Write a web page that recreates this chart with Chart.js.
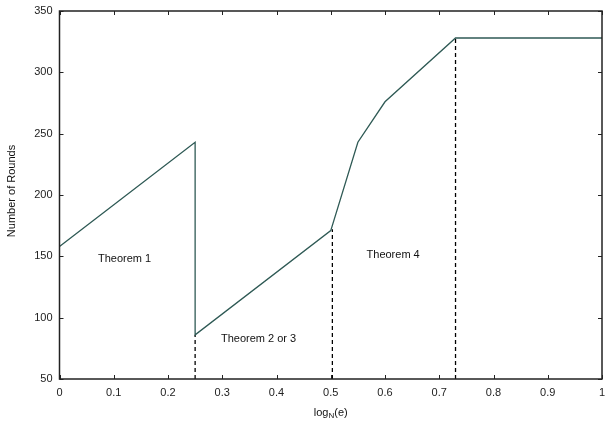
<!DOCTYPE html>
<html>
<head>
<meta charset="utf-8">
<script src="https://cdn.jsdelivr.net/npm/chart.js@4/dist/chart.umd.min.js"></script>
<style>
  html, body { margin: 0; padding: 0; background: #fff; }
  #wrap { width: 605px; height: 424px; }
</style>
</head>
<body>
<div id="wrap"><canvas id="roundsChart"></canvas></div>
<script>
// curve: log_N(e) vs number of rounds
const logE = [0, 0.25, 0.25, 0.5, 0.55, 0.6, 0.73, 1];
const rounds = [158, 243, 86, 171, 243, 276, 328, 328];

// dashed boundaries between theorem regions
const boundaryX = [0.25, 0.503, 0.73];
const boundaryTop = [86, 172, 328];

const xTicks = [0, 0.1, 0.2, 0.3, 0.4, 0.5, 0.6, 0.7, 0.8, 0.9, 1];
const yTicks = [50, 100, 150, 200, 250, 300, 350];

const regionLabels = ['Theorem 1', 'Theorem 2 or 3', 'Theorem 4'];
const regionX = [0.12, 0.367, 0.615];
const regionY = [148, 83, 151];

const FONT = '"Liberation Sans", Arial, sans-serif';

const datasets = [{
    data: logE.map((x, i) => ({ x: x, y: rounds[i] })),
    borderColor: '#2f5a55',
    borderWidth: 1.3,
    pointRadius: 0,
    fill: false
}];
boundaryX.forEach((x, i) => {
    datasets.push({
        data: [{ x: x, y: 50 }, { x: x, y: boundaryTop[i] }],
        borderColor: '#000',
        borderWidth: 1.3,
        borderDash: [4, 3],
        pointRadius: 0,
        fill: false
    });
});

// frame, inward ticks, region labels and axis titles
const extras = {
    id: 'extras',
    afterDraw(chart) {
        const ctx = chart.ctx;
        const a = chart.chartArea;
        const xs = chart.scales.x, ys = chart.scales.y;
        ctx.save();
        ctx.strokeStyle = '#222';
        ctx.lineWidth = 1;
        xTicks.forEach(v => {
            const px = Math.round(xs.getPixelForValue(v)) + 0.5;
            ctx.beginPath();
            ctx.moveTo(px, a.bottom); ctx.lineTo(px, a.bottom - 4);
            ctx.moveTo(px, a.top); ctx.lineTo(px, a.top + 4);
            ctx.stroke();
        });
        yTicks.forEach(v => {
            const py = Math.round(ys.getPixelForValue(v)) + 0.5;
            ctx.beginPath();
            ctx.moveTo(a.left, py); ctx.lineTo(a.left + 4, py);
            ctx.moveTo(a.right, py); ctx.lineTo(a.right - 4, py);
            ctx.stroke();
        });
        ctx.lineWidth = 1.5;
        ctx.strokeRect(a.left, a.top, a.right - a.left, a.bottom - a.top);

        ctx.fillStyle = '#111';
        ctx.font = '11px ' + FONT;
        ctx.textAlign = 'center';
        ctx.textBaseline = 'middle';
        regionLabels.forEach((t, i) => {
            ctx.fillText(t, xs.getPixelForValue(regionX[i]), ys.getPixelForValue(regionY[i]));
        });

        // x title with subscript
        const cx = (a.left + a.right) / 2;
        const ty = 413;
        ctx.textAlign = 'left';
        ctx.font = '11px ' + FONT;
        const w1 = ctx.measureText('log').width;
        ctx.font = '8px ' + FONT;
        const w2 = ctx.measureText('N').width;
        ctx.font = '11px ' + FONT;
        const w3 = ctx.measureText('(e)').width;
        let sx = cx - (w1 + w2 + w3) / 2;
        ctx.fillText('log', sx, ty);
        ctx.font = '8px ' + FONT;
        ctx.fillText('N', sx + w1, ty + 3);
        ctx.font = '11px ' + FONT;
        ctx.fillText('(e)', sx + w1 + w2, ty);

        // y title
        ctx.translate(12, 191);
        ctx.rotate(-Math.PI / 2);
        ctx.textAlign = 'center';
        ctx.fillText('Number of Rounds', 0, 0);
        ctx.restore();
    }
};

new Chart(document.getElementById('roundsChart'), {
    type: 'line',
    data: { datasets: datasets },
    options: {
        responsive: true,
        maintainAspectRatio: false,
        animation: false,
        layout: { padding: { top: 11, right: 3, left: 0, bottom: 0 } },
        plugins: {
            legend: { display: false },
            tooltip: { enabled: false }
        },
        scales: {
            x: {
                type: 'linear',
                min: 0,
                max: 1,
                afterFit: s => {
                    s.height = 45;
                    s.paddingLeft = 0; s.paddingRight = 0;
                },
                afterBuildTicks: s => { s.ticks = xTicks.map(v => ({ value: v })); },
                grid: { display: false, drawTicks: false, tickLength: 0 },
                border: { display: false },
                ticks: {
                    padding: 7,
                    maxRotation: 0,
                    color: '#222',
                    font: { family: FONT, size: 11 },
                    callback: v => String(Number(v.toFixed(1)))
                }
            },
            y: {
                min: 50,
                max: 350,
                afterFit: s => {
                    s.width = 59.5;
                    s.paddingTop = 0; s.paddingBottom = 0;
                },
                afterBuildTicks: s => { s.ticks = yTicks.map(v => ({ value: v })); },
                grid: { display: false, drawTicks: false, tickLength: 0 },
                border: { display: false },
                ticks: {
                    padding: 7,
                    color: '#222',
                    font: { family: FONT, size: 11 }
                }
            }
        }
    },
    plugins: [extras]
});
</script>
</body>
</html>
